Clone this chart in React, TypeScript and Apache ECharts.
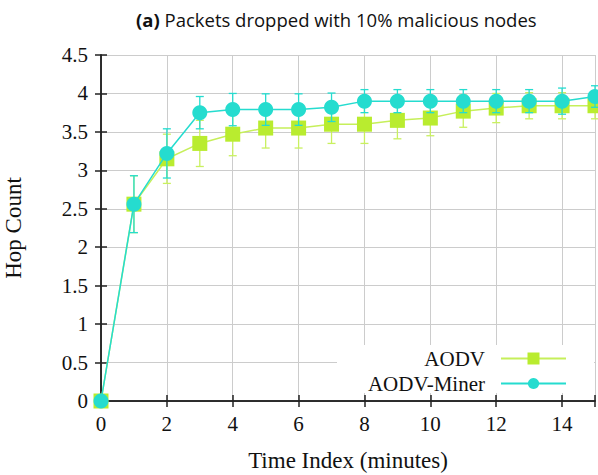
import React, { useEffect, useRef } from "react";
import * as echarts from "echarts";

const timeIndex = [0, 1, 2, 3, 4, 5, 6, 7, 8, 9, 10, 11, 12, 13, 14, 15];
const aodv = [0, 2.56, 3.15, 3.35, 3.47, 3.55, 3.55, 3.6, 3.6, 3.65, 3.68, 3.77, 3.81, 3.84, 3.84, 3.84];
const aodvErr = [0, 0.37, 0.32, 0.3, 0.28, 0.26, 0.26, 0.25, 0.25, 0.24, 0.23, 0.21, 0.19, 0.17, 0.17, 0.17];
const miner = [0, 2.56, 3.22, 3.75, 3.79, 3.79, 3.79, 3.82, 3.9, 3.9, 3.9, 3.9, 3.9, 3.9, 3.9, 3.96];
const minerErr = [0, 0.37, 0.32, 0.21, 0.21, 0.205, 0.205, 0.185, 0.15, 0.15, 0.15, 0.15, 0.15, 0.15, 0.17, 0.14];

const LIME = "#b9ec2f";
const LIME_LIGHT = "#c9f060";
const LIME_LINE = "#c6ef5a";
const TEAL = "#25dccf";

const errData = (vals: number[], errs: number[]) =>
  timeIndex.map((t, i) => [t, vals[i] - errs[i], vals[i] + errs[i]]);

const errRender = (color: string) => (params: any, api: any) => {
  const x = api.value(0);
  const lo = api.coord([x, api.value(1)]);
  const hi = api.coord([x, api.value(2)]);
  const w = 4;
  const style = { stroke: color, lineWidth: 1.3 };
  return {
    type: "group",
    children: [
      { type: "line", shape: { x1: lo[0], y1: lo[1], x2: hi[0], y2: hi[1] }, style },
      { type: "line", shape: { x1: lo[0] - w, y1: lo[1], x2: lo[0] + w, y2: lo[1] }, style },
      { type: "line", shape: { x1: hi[0] - w, y1: hi[1], x2: hi[0] + w, y2: hi[1] }, style },
    ],
  };
};

export default function App() {
  const ref = useRef<HTMLDivElement>(null);
  useEffect(() => {
    if (!ref.current) return;
    const chart = echarts.init(ref.current, undefined, { renderer: "svg" });
    const serif = "Liberation Serif";
    const axisCommon = {
      type: "value" as const,
      axisLine: { show: true, lineStyle: { color: "#222", width: 1.5 } },
      axisTick: { show: true, inside: true, length: 6, lineStyle: { color: "#222", width: 1.5 } },
    };
    chart.setOption({
      animation: false,
      backgroundColor: "#fff",
      title: {
        text: "{b|(a)} Packets dropped with 10% malicious nodes",
        left: 131,
        top: 5,
        textStyle: {
          fontFamily: "Open Sans",
          fontSize: 18.5,
          fontWeight: "normal",
          color: "#111",
          rich: { b: { fontFamily: "Open Sans", fontSize: 18.5, fontWeight: "bold", color: "#111" } },
        },
      },
      grid: { left: 101, right: 3, top: 55, bottom: 74, outerBoundsMode: "none", containLabel: false },
      xAxis: [
        {
          ...axisCommon,
          min: 0,
          max: 15,
          interval: 2,
          name: "Time Index (minutes)",
          nameLocation: "middle",
          nameGap: 48,
          nameTextStyle: { fontFamily: serif, fontSize: 23, color: "#111" },
          axisLabel: {
            fontFamily: serif,
            fontSize: 21,
            color: "#111",
            margin: 12,
            formatter: (v: number) => (v % 2 === 0 ? String(v) : ""),
          },
          splitLine: { show: true, lineStyle: { color: "#cccccc", width: 1 } },
        },
        {
          ...axisCommon,
          position: "top",
          min: 0,
          max: 15,
          interval: 2,
          axisLabel: { show: false },
          splitLine: { show: false },
        },
      ],
      yAxis: [
        {
          ...axisCommon,
          min: 0,
          max: 4.5,
          interval: 0.5,
          name: "Hop Count",
          nameLocation: "middle",
          nameGap: 76,
          nameTextStyle: { fontFamily: serif, fontSize: 23, color: "#111" },
          axisLabel: { fontFamily: serif, fontSize: 21, color: "#111", margin: 13 },
          splitLine: { show: true, lineStyle: { color: "#cccccc", width: 1 } },
        },
        {
          ...axisCommon,
          position: "right",
          min: 0,
          max: 4.5,
          interval: 0.5,
          axisLabel: { show: false },
          splitLine: { show: false },
        },
      ],
      graphic: [
        {
          type: "rect",
          z: 1,
          shape: { x: 337, y: 345, width: 257, height: 48 },
          style: { fill: "#ffffff" },
        },
      ],
      legend: [
        {
          data: [{ name: "AODV", itemStyle: { color: LIME }, lineStyle: { color: LIME_LINE } }],
          right: 26,
          top: 343,
          align: "right",
          itemWidth: 65,
          itemHeight: 15,
          textStyle: { fontFamily: serif, fontSize: 21, color: "#111", padding: [0, 11, 0, 0] },
        },
        {
          data: ["AODV-Miner"],
          right: 26,
          top: 368,
          align: "right",
          itemWidth: 65,
          itemHeight: 14,
          textStyle: { fontFamily: serif, fontSize: 21, color: "#111", padding: [0, 11, 0, 0] },
        },
      ],
      series: [
        {
          name: "AODV-err",
          type: "custom",
          z: 2,
          renderItem: errRender(LIME_LIGHT),
          data: errData(aodv, aodvErr),
          encode: { x: 0, y: [1, 2] },
        },
        {
          name: "AODV",
          type: "line",
          z: 3,
          data: timeIndex.map((t, i) => [t, aodv[i]]),
          symbol: "rect",
          symbolSize: 15,
          itemStyle: { color: LIME },
          lineStyle: { color: LIME_LINE, width: 1.5 },
        },
        {
          name: "Miner-err",
          type: "custom",
          z: 4,
          renderItem: errRender(TEAL),
          data: errData(miner, minerErr),
          encode: { x: 0, y: [1, 2] },
        },
        {
          name: "AODV-Miner",
          type: "line",
          z: 5,
          data: timeIndex.map((t, i) => [t, miner[i]]),
          symbol: "circle",
          symbolSize: 15,
          itemStyle: { color: TEAL },
          lineStyle: { color: TEAL, width: 1.5 },
        },
      ],
    });
    return () => chart.dispose();
  }, []);
  return <div ref={ref} style={{ width: 598, height: 475, position: "absolute", left: 0, top: 0 }} />;
}
